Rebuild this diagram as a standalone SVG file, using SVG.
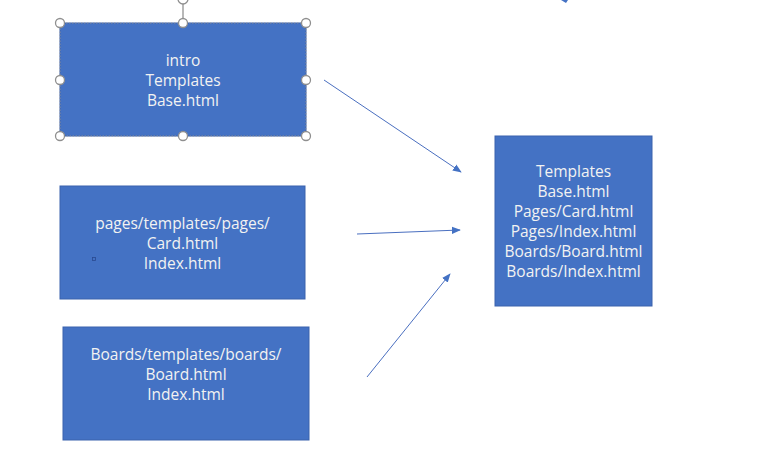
<svg xmlns="http://www.w3.org/2000/svg" width="767" height="454" viewBox="0 0 767 454">
<style>
.box{fill:#4472C4;stroke:#3A62AD;stroke-width:1}
.t{font-family:"Open Sans","Noto Sans",sans-serif;font-size:15.5px;fill:#F2F2F2;text-anchor:middle}
.c{stroke:#4A6FC0;stroke-width:1;fill:none;marker-end:url(#ah)}
.h{fill:#fff;stroke:#8F8F8F;stroke-width:1.3}
</style>
<defs>
<marker id="ah" viewBox="0 0 10 10" refX="9" refY="5" markerWidth="9" markerHeight="9" markerUnits="userSpaceOnUse" orient="auto">
<path d="M0,1 L10,5 L0,9 Z" fill="#4472C4"/>
</marker>
</defs>
<rect width="767" height="454" fill="#fff"/>
<g id="connectors">
<line class="c" x1="324" y1="80" x2="461" y2="172"/>
<line class="c" x1="357" y1="234" x2="460" y2="230"/>
<line class="c" x1="367" y1="377" x2="450" y2="274"/>
<path d="M561,0 L568,0 L566,3 Z" fill="#4472C4"/>
</g>
<g id="node-intro">
<rect class="box" x="60" y="23" width="246" height="113"/>
<rect x="60" y="23" width="246" height="113" fill="none" stroke="#9A9A9A" stroke-width="0.8" stroke-dasharray="1.5,1.5"/>
<text class="t" x="183" y="66">intro</text>
<text class="t" x="183" y="86">Templates</text>
<text class="t" x="183" y="106">Base.html</text>
<line x1="183" y1="0" x2="183" y2="23" stroke="#A0A0A0" stroke-width="1.5"/>
<circle class="h" cx="183" cy="-1" r="5"/>
<circle class="h" cx="60" cy="23" r="4.5"/>
<circle class="h" cx="183" cy="23" r="4.5"/>
<circle class="h" cx="306" cy="23" r="4.5"/>
<circle class="h" cx="60" cy="80" r="4.5"/>
<circle class="h" cx="306" cy="80" r="4.5"/>
<circle class="h" cx="60" cy="136" r="4.5"/>
<circle class="h" cx="183" cy="136" r="4.5"/>
<circle class="h" cx="306" cy="136" r="4.5"/>
</g>
<g id="node-pages">
<rect class="box" x="60" y="186" width="245" height="113"/>
<text class="t" x="182.5" y="229">pages/templates/pages/</text>
<text class="t" x="182.5" y="249">Card.html</text>
<text class="t" x="182.5" y="269">Index.html</text>
<rect x="92.5" y="257.5" width="3" height="3" fill="none" stroke="#2A4A90" stroke-width="0.8"/>
</g>
<g id="node-boards">
<rect class="box" x="63" y="327" width="246" height="113"/>
<text class="t" x="186" y="360">Boards/templates/boards/</text>
<text class="t" x="186" y="380">Board.html</text>
<text class="t" x="186" y="400">Index.html</text>
</g>
<g id="node-result">
<rect class="box" x="495" y="136" width="157" height="170"/>
<text class="t" x="573.5" y="177">Templates</text>
<text class="t" x="573.5" y="197">Base.html</text>
<text class="t" x="573.5" y="217">Pages/Card.html</text>
<text class="t" x="573.5" y="237">Pages/Index.html</text>
<text class="t" x="573.5" y="257">Boards/Board.html</text>
<text class="t" x="573.5" y="277">Boards/Index.html</text>
</g>
</svg>
